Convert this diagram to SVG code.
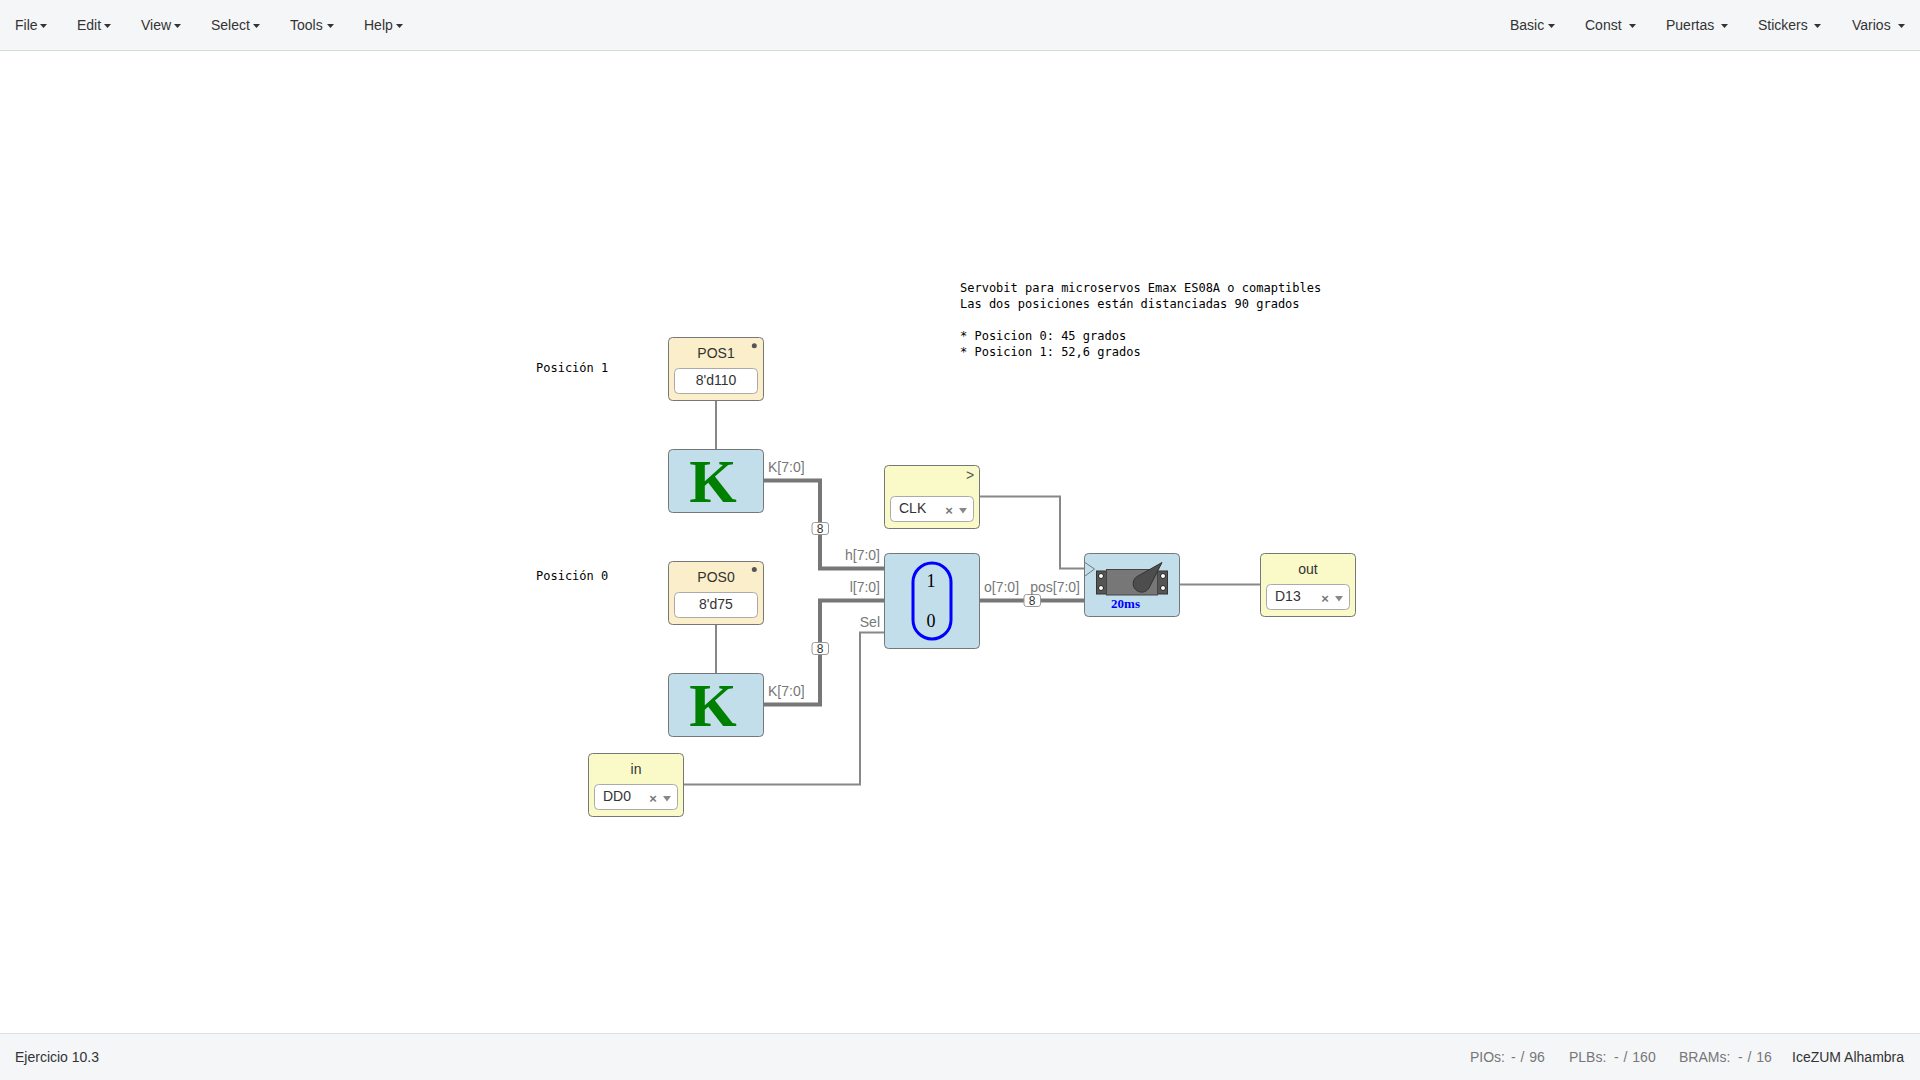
<svg xmlns="http://www.w3.org/2000/svg" width="1920" height="1080" viewBox="0 0 1920 1080">
<style>
text{font-family:"Liberation Sans",Arial,sans-serif;font-size:14px;fill:#333}
.bar{fill:#f5f6f8;stroke:none}
.mono{font-family:"DejaVu Sans Mono",monospace;font-size:12px;fill:#000}
.box{stroke:#777;stroke-width:1}
.c{fill:#faefca}.y{fill:#fafac8}.b{fill:#c1deea}
.in{fill:#fff;stroke:#aaa;stroke-width:1}
.m{text-anchor:middle}
.e{text-anchor:end}
.lab{fill:#777}
.thin{fill:none;stroke:#888;stroke-width:2}
.thick{fill:none;stroke:#777;stroke-width:4}
.blab{fill:#fff;stroke:#999;stroke-width:1}
.blt{font-size:12px;text-anchor:middle;fill:#333}
.k{font-family:"Liberation Serif",serif;font-weight:bold;font-size:61px;fill:#008000;text-anchor:middle}
.car{fill:#333}
.sa{fill:#888}
.x{font-weight:bold;font-size:13px;fill:#777;text-anchor:middle}
.ear{fill:#555;stroke:#333;stroke-width:1}
.hole{fill:#fff;stroke:#222;stroke-width:1}
.st{fill:#777;word-spacing:1px}
</style>
<rect width="1920" height="1080" fill="#fff"/>
<g id="menubar">
<rect class="bar" width="1920" height="50.5"/>
<path d="M0 50.5H1920" stroke="#d5dbdb" fill="none"/>
<text x="15" y="30">File</text><path class="car" d="M40 24h7l-3.500 4z"/>
<text x="77" y="30">Edit</text><path class="car" d="M104 24h7l-3.500 4z"/>
<text x="141" y="30">View</text><path class="car" d="M174 24h7l-3.500 4z"/>
<text x="211" y="30">Select</text><path class="car" d="M253 24h7l-3.500 4z"/>
<text x="290" y="30">Tools</text><path class="car" d="M327 24h7l-3.500 4z"/>
<text x="364" y="30">Help</text><path class="car" d="M396 24h7l-3.500 4z"/>
<text x="1510" y="30">Basic</text><path class="car" d="M1548 24h7l-3.500 4z"/>
<text x="1585" y="30">Const</text><path class="car" d="M1629 24h7l-3.500 4z"/>
<text x="1666" y="30">Puertas</text><path class="car" d="M1721 24h7l-3.500 4z"/>
<text x="1758" y="30">Stickers</text><path class="car" d="M1814 24h7l-3.500 4z"/>
<text x="1852" y="30">Varios</text><path class="car" d="M1898 24h7l-3.500 4z"/>
</g>
<g id="statusbar">
<rect class="bar" y="1033" width="1920" height="47"/>
<path d="M0 1033.500H1920" stroke="#dddfe2" fill="none"/>
<text x="15" y="1062">Ejercicio 10.3</text>
<text class="st" x="1470" y="1062">PIOs:</text><text class="st" x="1511" y="1062">- / 96</text>
<text class="st" x="1569" y="1062">PLBs:</text><text class="st" x="1614" y="1062">- / 160</text>
<text class="st" x="1679" y="1062">BRAMs:</text><text class="st" x="1738" y="1062">- / 16</text>
<text x="1792" y="1062">IceZUM Alhambra</text>
</g>
<g id="connectors">
<path class="thin" d="M716 400.500V449.500"/>
<path class="thin" d="M716 624.500V673.500"/>
<path class="thick" d="M764 480.500H820V568.500H884"/>
<path class="thick" d="M764 704.500H820V600.500H884"/>
<path class="thin" d="M683.500 784.500H860V632.500H884"/>
<path class="thin" d="M979.500 496.500H1060V568.500H1085"/>
<path class="thick" d="M979.500 600.500H1084"/>
<path class="thin" d="M1179.500 584.500H1260"/>
<rect class="blab" x="812" y="522.500" width="16.500" height="12" rx="2.500"/><text class="blt" x="820" y="533">8</text>
<rect class="blab" x="812" y="642.500" width="16.500" height="12" rx="2.500"/><text class="blt" x="820" y="653">8</text>
<rect class="blab" x="1024" y="594.500" width="16.500" height="12" rx="2.500"/><text class="blt" x="1032" y="605">8</text>
<text class="lab" x="768" y="471.500">K[7:0]</text>
<text class="lab" x="768" y="695.500">K[7:0]</text>
<text class="lab e" x="880" y="560">h[7:0]</text>
<text class="lab e" x="880" y="592">l[7:0]</text>
<text class="lab e" x="880" y="627">Sel</text>
<text class="lab" x="984" y="592">o[7:0]</text>
<text class="lab e" x="1080" y="592">pos[7:0]</text>
</g>
<g id="note-main">
<text class="mono" x="960" y="292">Servobit para microservos Emax ES08A o comaptibles</text>
<text class="mono" x="960" y="308">Las dos posiciones están distanciadas 90 grados</text>
<text class="mono" x="960" y="340">* Posicion 0: 45 grados</text>
<text class="mono" x="960" y="356">* Posicion 1: 52,6 grados</text>
</g>
<g id="note-pos1"><text class="mono" x="536" y="372">Posición 1</text></g>
<g id="note-pos0"><text class="mono" x="536" y="580">Posición 0</text></g>
<g id="POS1">
<rect class="box c" x="668.500" y="337.500" width="95" height="63" rx="4"/>
<circle cx="754.300" cy="345.700" r="2.500" fill="#555"/>
<text class="m" x="716" y="358">POS1</text>
<rect class="in" x="674.500" y="368.500" width="83" height="25" rx="4"/>
<text class="m" x="716" y="385">8'd110</text>
</g>
<g id="K1">
<rect class="box b" x="668.500" y="449.500" width="95" height="63" rx="4"/>
<text class="k" x="713" y="502">K</text>
</g>
<g id="POS0">
<rect class="box c" x="668.500" y="561.500" width="95" height="63" rx="4"/>
<circle cx="754.300" cy="569.500" r="2.500" fill="#555"/>
<text class="m" x="716" y="582">POS0</text>
<rect class="in" x="674.500" y="592.500" width="83" height="25" rx="4"/>
<text class="m" x="716" y="609">8'd75</text>
</g>
<g id="K0">
<rect class="box b" x="668.500" y="673.500" width="95" height="63" rx="4"/>
<text class="k" x="713" y="726">K</text>
</g>
<g id="in">
<rect class="box y" x="588.500" y="753.500" width="95" height="63" rx="4"/>
<text class="m" x="636" y="774">in</text>
<rect class="in" x="594.500" y="784.500" width="83" height="25" rx="4"/>
<text x="603" y="801">DD0</text>
<text class="x" x="653" y="803">×</text>
<path class="sa" d="M663 796h8l-4 5.500z"/>
</g>
<g id="CLK">
<rect class="box y" x="884.500" y="465.500" width="95" height="63" rx="4"/>
<text x="966" y="480" style="fill:#555">&gt;</text>
<rect class="in" x="890.500" y="496.500" width="83" height="25" rx="4"/>
<text x="899" y="513">CLK</text>
<text class="x" x="949" y="515">×</text>
<path class="sa" d="M959 508h8l-4 5.500z"/>
</g>
<g id="mux">
<rect class="box b" x="884.500" y="553.500" width="95" height="95" rx="4"/>
<rect x="913" y="563" width="38" height="76" rx="19" fill="none" stroke="#00f" stroke-width="3"/>
<text class="m" x="931" y="587" style="font-family:'Liberation Serif',serif;font-size:18px;fill:#000">1</text>
<text class="m" x="931" y="627" style="font-family:'Liberation Serif',serif;font-size:18px;fill:#000">0</text>
</g>
<g id="servo">
<rect class="box b" x="1084.500" y="553.500" width="95" height="63" rx="4"/>
<path d="M1085 562.500L1094.500 569L1085 576" fill="#c1deea" stroke="#777" stroke-width="1"/>
<rect class="ear" x="1096.500" y="571" width="71" height="23"/>
<circle class="hole" cx="1101" cy="576" r="2.500"/><circle class="hole" cx="1101" cy="588" r="2.500"/>
<circle class="hole" cx="1163" cy="576" r="2.500"/><circle class="hole" cx="1163" cy="588" r="2.500"/>
<rect x="1106.500" y="569.500" width="51" height="25.500" fill="#777" stroke="#444" stroke-width="1"/>
<path d="M1162 562.500L1149 588A8.500 8.500 0 1 1 1138 576Z" fill="#4d4d4d" stroke="#333" stroke-width="1"/>
<text x="1125.500" y="608" class="m" style="font-family:'Liberation Serif',serif;font-weight:bold;font-size:13px;fill:#00f">20ms</text>
</g>
<g id="out">
<rect class="box y" x="1260.500" y="553.500" width="95" height="63" rx="4"/>
<text class="m" x="1308" y="574">out</text>
<rect class="in" x="1266.500" y="584.500" width="83" height="25" rx="4"/>
<text x="1275" y="601">D13</text>
<text class="x" x="1325" y="603">×</text>
<path class="sa" d="M1335 596h8l-4 5.500z"/>
</g>
</svg>
